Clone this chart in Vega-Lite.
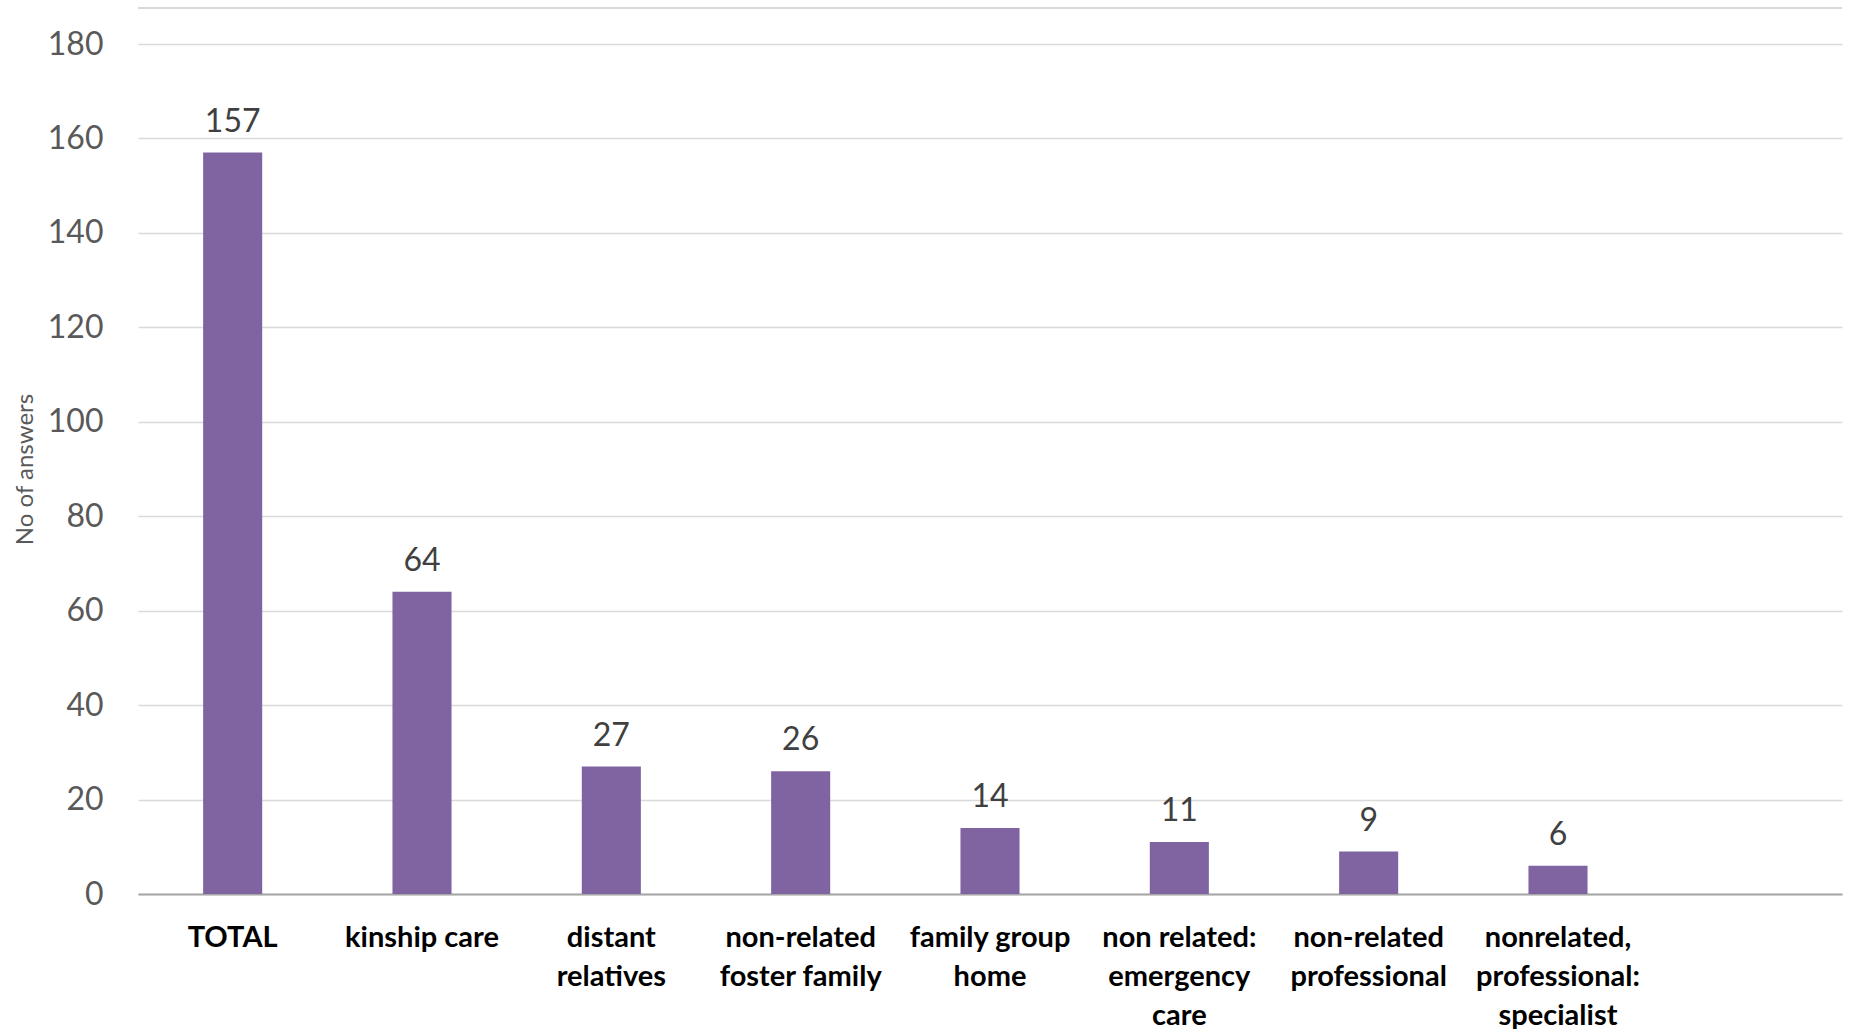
{
  "$schema": "https://vega.github.io/schema/vega-lite/v6.json",
  "width": 1704,
  "height": 850,
  "autosize": {"type": "none"},
  "padding": {"left": 138, "top": 44, "right": 9, "bottom": 135},
  "background": "white",
  "config": {
    "font": "Lato",
    "view": {"stroke": null}
  },
  "datasets": {
    "answers": [
      {"category": "TOTAL", "answers": 157},
      {"category": "kinship care", "answers": 64},
      {"category": "distant|relatives", "answers": 27},
      {"category": "non-related|foster family", "answers": 26},
      {"category": "family group|home", "answers": 14},
      {"category": "non related:|emergency|care", "answers": 11},
      {"category": "non-related|professional", "answers": 9},
      {"category": "nonrelated,|professional:|specialist", "answers": 6}
    ]
  },
  "data": {"name": "answers"},
  "encoding": {
    "x": {
      "field": "category",
      "type": "nominal",
      "sort": null,
      "scale": {
        "domain": ["TOTAL", "kinship care", "distant|relatives", "non-related|foster family", "family group|home", "non related:|emergency|care", "non-related|professional", "nonrelated,|professional:|specialist", " "],
        "paddingInner": 0.688,
        "paddingOuter": 0.344
      },
      "axis": {
        "title": null,
        "labelAngle": 0,
        "labelExpr": "split(datum.label, '|')",
        "labelFont": "Lato",
        "labelFontWeight": "bold",
        "labelFontSize": 29,
        "labelColor": "#000000",
        "labelLineHeight": 39,
        "labelBaseline": "top",
        "labelPadding": 29,
        "labelLimit": 0,
        "ticks": false,
        "domainColor": "#a6a6a6",
        "domainWidth": 2,
        "grid": false
      }
    },
    "y": {
      "field": "answers",
      "type": "quantitative",
      "scale": {"domain": [0, 180], "nice": false},
      "axis": {
        "title": "No of answers",
        "titleFont": "Lato",
        "titleFontWeight": "normal",
        "titleFontSize": 24,
        "titleColor": "#595959",
        "titlePadding": 10,
        "values": [0, 20, 40, 60, 80, 100, 120, 140, 160, 180],
        "labelFont": "Lato",
        "labelFontSize": 32,
        "labelColor": "#595959",
        "labelPadding": 35,
        "ticks": false,
        "domain": false,
        "grid": true,
        "gridColor": "#d9d9d9",
        "gridWidth": 1.5
      }
    }
  },
  "layer": [
    {
      "mark": {"type": "bar", "color": "#8064a2"}
    },
    {
      "mark": {"type": "text", "baseline": "alphabetic", "dy": -21, "fontSize": 32, "font": "Lato", "color": "#404040"},
      "encoding": {"text": {"field": "answers", "type": "quantitative"}}
    },
    {
      "mark": {"type": "rule", "color": "#d9d9d9", "strokeWidth": 2},
      "encoding": {"y": {"datum": 187.6}, "x": null, "text": null}
    }
  ]
}
